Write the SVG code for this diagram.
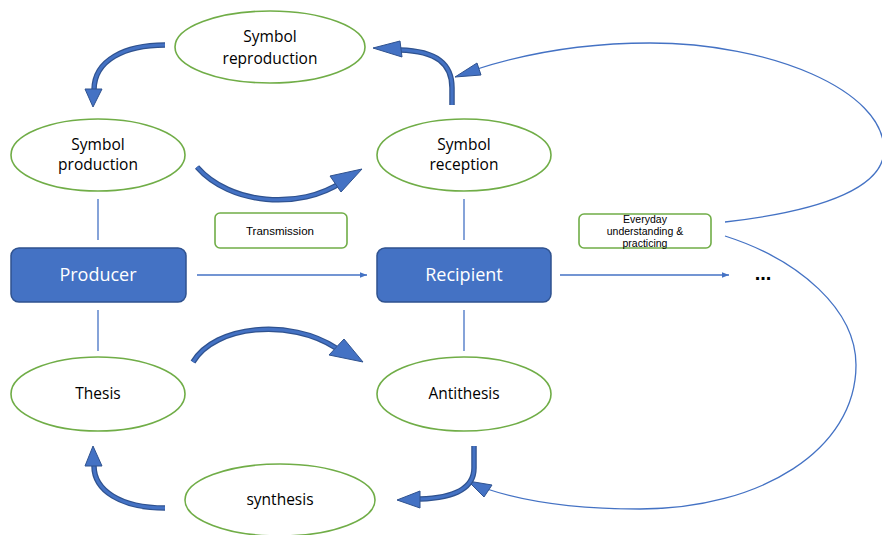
<svg xmlns="http://www.w3.org/2000/svg" width="882" height="535" viewBox="0 0 882 535">
  <style>
    .node ellipse { fill: #ffffff; stroke: #70AD47; stroke-width: 1.6; }
    .label { font-family: "Open Sans", "Liberation Sans", sans-serif; font-size: 15.5px; font-weight: 500; fill: #000000; text-anchor: middle; }
    .box { fill: #4472C4; stroke: #2F528F; stroke-width: 1.5; }
    .boxlabel { font-family: "Open Sans", "Liberation Sans", sans-serif; font-size: 18px; font-weight: 500; fill: #ffffff; text-anchor: middle; }
    .tag rect { fill: #ffffff; stroke: #70AD47; stroke-width: 1.6; }
    .small { font-family: "Liberation Sans", "Open Sans", sans-serif; font-size: 11.5px; fill: #000000; text-anchor: middle; }
    .thin { fill: none; stroke: #4472C4; stroke-width: 1.3; }
    .shaft-out { fill: none; stroke: #2F528F; stroke-width: 5.5; }
    .shaft-in { fill: none; stroke: #4472C4; stroke-width: 3; }
    .head { fill: #4472C4; stroke: #2F528F; stroke-width: 1; stroke-linejoin: miter; }
  </style>
  <defs>
    <marker id="tip" viewBox="0 0 10 10" refX="10" refY="5" markerWidth="7" markerHeight="7" markerUnits="userSpaceOnUse" orient="auto">
      <path d="M0,1 L10,5 L0,9 Z" fill="#4472C4"/>
    </marker>
  </defs>

  <rect width="882" height="535" fill="#ffffff"/>

  <!-- connectors -->
  <g id="connectors">
    <!-- vertical ties -->
    <line class="thin" x1="98" y1="199" x2="98" y2="240"/>
    <line class="thin" x1="98" y1="310" x2="98" y2="351"/>
    <line class="thin" x1="464" y1="199" x2="464" y2="240"/>
    <line class="thin" x1="464" y1="310" x2="464" y2="351"/>

    <!-- horizontal flow -->
    <line class="thin" x1="197" y1="275" x2="367" y2="275" marker-end="url(#tip)"/>
    <line class="thin" x1="560" y1="275" x2="729" y2="275" marker-end="url(#tip)"/>

    <!-- feedback loop, upper -->
    <path class="thin" d="M725,222 C830,210 884,185 884,150 C884,90 770,43 650,43 C580,43 520,55 474,70"/>
    <polygon class="head" points="455,77 477,63 481,75"/>

    <!-- feedback loop, lower -->
    <path class="thin" d="M725,236 C800,260 856,310 856,365 C856,450 760,509 640,509 C570,509 520,500 487,489"/>
    <polygon class="head" points="468,481 492,485 484,497"/>

    <!-- reproduction -> production -->
    <path class="shaft-out" d="M165,45 C125,45 94,60 94,90"/>
    <path class="shaft-in" d="M165,45 C125,45 94,60 94,90"/>
    <polygon class="head" points="85,89 102,89 93,107"/>

    <!-- production -> reception -->
    <path class="shaft-out" d="M197,167 C230,205 300,210 342,182"/>
    <path class="shaft-in" d="M197,167 C230,205 300,210 342,182"/>
    <polygon class="head" points="362,169 330,176 341,192"/>

    <!-- reception -> reproduction -->
    <path class="shaft-out" d="M452,105 L452,88 C452,64 437,51 400,50"/>
    <path class="shaft-in" d="M452,105 L452,88 C452,64 437,51 400,50"/>
    <polygon class="head" points="373,48 400,41 402,57"/>

    <!-- thesis -> antithesis -->
    <path class="shaft-out" d="M193,362 C215,325 290,318 336,348"/>
    <path class="shaft-in" d="M193,362 C215,325 290,318 336,348"/>
    <polygon class="head" points="363,362 344,339 329,355"/>

    <!-- antithesis -> synthesis -->
    <path class="shaft-out" d="M474,446 L474,468 C474,490 452,498 420,499"/>
    <path class="shaft-in" d="M474,446 L474,468 C474,490 452,498 420,499"/>
    <polygon class="head" points="397,500 420,491 420,508"/>

    <!-- synthesis -> thesis -->
    <path class="shaft-out" d="M165,508 C120,508 94,490 94,466"/>
    <path class="shaft-in" d="M165,508 C120,508 94,490 94,466"/>
    <polygon class="head" points="93,446 85,466 102,466"/>
  </g>

  <!-- nodes -->
  <g id="symbol-reproduction" class="node">
    <ellipse cx="270" cy="47" rx="95" ry="36"/>
    <text class="label" x="270" y="42">Symbol</text>
    <text class="label" x="270" y="64">reproduction</text>
  </g>
  <g id="symbol-production" class="node">
    <ellipse cx="98" cy="155" rx="87" ry="36"/>
    <text class="label" x="98" y="150">Symbol</text>
    <text class="label" x="98" y="170">production</text>
  </g>
  <g id="symbol-reception" class="node">
    <ellipse cx="464" cy="155" rx="87" ry="36"/>
    <text class="label" x="464" y="150">Symbol</text>
    <text class="label" x="464" y="170">reception</text>
  </g>
  <g id="producer">
    <rect class="box" x="11" y="248" width="175" height="54" rx="8"/>
    <text class="boxlabel" x="98" y="281">Producer</text>
  </g>
  <g id="recipient">
    <rect class="box" x="377" y="248" width="174" height="54" rx="8"/>
    <text class="boxlabel" x="464" y="281">Recipient</text>
  </g>
  <g id="transmission" class="tag">
    <rect x="215" y="213" width="132" height="35" rx="5"/>
    <text class="small" x="280" y="235">Transmission</text>
  </g>
  <g id="everyday" class="tag">
    <rect x="579" y="214" width="132" height="34" rx="5"/>
    <text class="small" x="645" y="223" style="font-size:10.5px">Everyday</text>
    <text class="small" x="645" y="235" style="font-size:10.5px">understanding &amp;</text>
    <text class="small" x="645" y="247" style="font-size:10.5px">practicing</text>
  </g>
  <g id="continuation">
    <text x="763" y="280" style="font-family:'Liberation Sans',sans-serif;font-size:20px;font-weight:bold;fill:#000000" text-anchor="middle">...</text>
  </g>
  <g id="thesis" class="node">
    <ellipse cx="98" cy="394" rx="87" ry="37"/>
    <text class="label" x="98" y="399">Thesis</text>
  </g>
  <g id="antithesis" class="node">
    <ellipse cx="464" cy="394" rx="87" ry="37"/>
    <text class="label" x="464" y="399">Antithesis</text>
  </g>
  <g id="synthesis" class="node">
    <ellipse cx="280" cy="500" rx="95" ry="36"/>
    <text class="label" x="280" y="505">synthesis</text>
  </g>
</svg>
